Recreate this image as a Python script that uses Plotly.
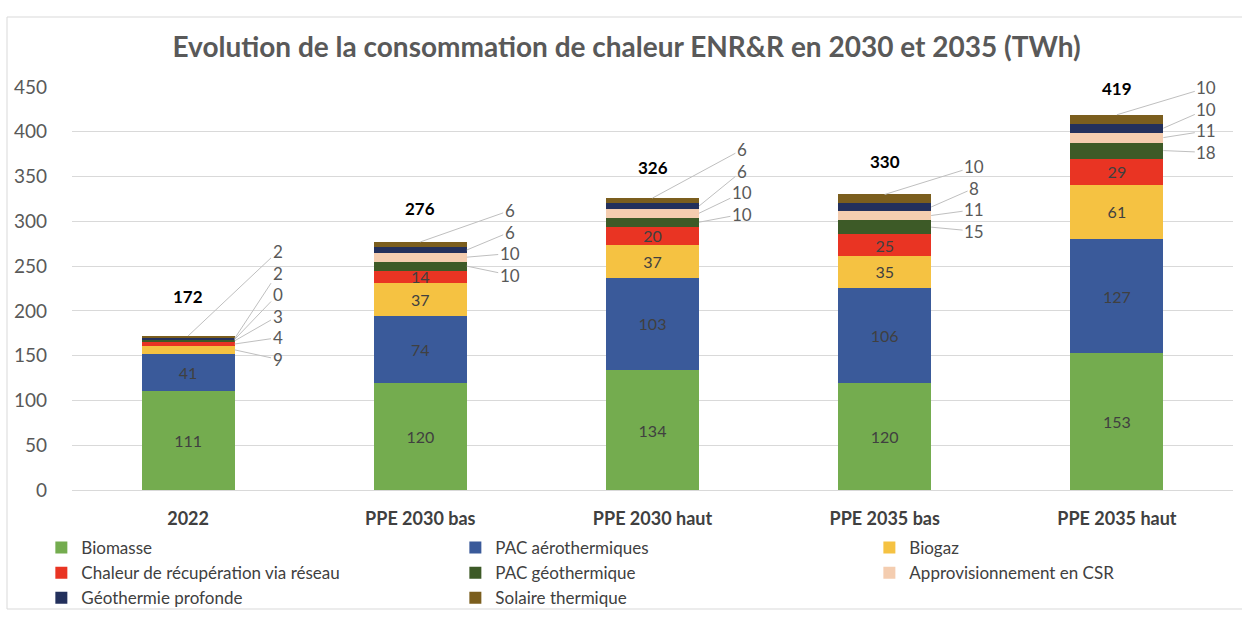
import plotly.graph_objects as go

categories = ["2022", "PPE 2030 bas", "PPE 2030 haut", "PPE 2035 bas", "PPE 2035 haut"]
series_names = ["Biomasse", "PAC aérothermiques", "Biogaz", "Chaleur de récupération via réseau",
                "PAC géothermique", "Approvisionnement en CSR", "Géothermie profonde", "Solaire thermique"]
biomasse = [111, 120, 134, 120, 153]
pac_aero = [41, 74, 103, 106, 127]
biogaz = [9, 37, 37, 35, 61]
chaleur = [4, 14, 20, 25, 29]
pac_geo = [3, 10, 10, 15, 18]
csr = [0, 10, 10, 11, 11]
geo_prof = [2, 6, 6, 8, 10]
solaire = [2, 6, 6, 10, 10]
totals = [172, 276, 326, 330, 419]

series_values = [biomasse, pac_aero, biogaz, chaleur, pac_geo, csr, geo_prof, solaire]
colors = ["#74AC4F", "#3A5A9A", "#F5C242", "#E93423", "#3D5A27", "#F4CDB0", "#23305C", "#7B5E1E"]
# legend column of each series (3 columns, as in the reference)
legend_cols = ["legend", "legend2", "legend3", "legend", "legend2", "legend3", "legend", "legend2"]

# styling for label placement (not data)
total_shift_px = [39, 34, 31, 33, 26]
callout_start = [94, 35, 54, 31, 30]
callout_step = 24
callout_dx = 0.385
bar_half = 0.2

FONT = "Lato, 'Open Sans', sans-serif"

fig = go.Figure()
n = len(categories)
xs = list(range(n))
for si, (name, vals, col) in enumerate(zip(series_names, series_values, colors)):
    txt = [str(v) if (si < 4 and v >= 10) else "" for v in vals]
    fig.add_trace(go.Bar(
        x=xs, y=vals, name=name, marker=dict(color=col, line=dict(width=0)),
        width=0.4, text=txt, textposition="inside", insidetextanchor="middle",
        constraintext="none", textangle=0,
        textfont=dict(family=FONT, size=16, color="#404040"),
        hoverinfo="skip", legend=legend_cols[si],
    ))

annotations = []
for i in range(n):
    annotations.append(dict(x=i, y=totals[i], xref="x", yref="y", text="<b>%d</b>" % totals[i],
                            showarrow=False, yshift=total_shift_px[i],
                            font=dict(family=FONT, size=17, color="#000000")))
    outside = [si for si in range(len(series_values) - 1, -1, -1)
               if not (si < 4 and series_values[si][i] >= 10)]
    cum = [0]
    for si in range(len(series_values)):
        cum.append(cum[-1] + series_values[si][i])
    stack_top = cum[-1]
    for k, si in enumerate(outside):
        mid = (cum[si] + cum[si + 1]) / 2
        if si == len(series_values) - 1:
            px, py = i, stack_top
        else:
            px, py = i + bar_half, mid
        annotations.append(dict(
            x=px, y=py, xref="x", yref="y",
            ax=i + callout_dx, ay=stack_top + callout_start[i] - k * callout_step,
            axref="x", ayref="y",
            text=str(series_values[si][i]), showarrow=True, arrowhead=0, arrowwidth=1,
            arrowcolor="#BFBFBF", standoff=0,
            font=dict(family=FONT, size=17, color="#595959"),
        ))

legend_style = dict(orientation="v", yanchor="top", xanchor="left", traceorder="normal",
                    font=dict(family=FONT, size=17, color="#404040"), itemclick=False,
                    bgcolor="rgba(0,0,0,0)", tracegroupgap=0)
leg_y = -0.0993

fig.update_layout(
    barmode="stack",
    width=1242, height=617,
    margin=dict(l=72, r=9, t=87, b=127, autoexpand=False),
    paper_bgcolor="white", plot_bgcolor="white",
    title=dict(text="<b>Evolution de la consommation de chaleur ENR&R en 2030 et 2035 (TWh)</b>",
               x=0.5045, xanchor="center", y=1 - 47 / 617, yanchor="middle",
               font=dict(family=FONT, size=28, color="#595959")),
    xaxis=dict(tickmode="array", tickvals=xs, ticktext=["<b>%s</b>" % c for c in categories],
               range=[-0.5, n - 0.5], showgrid=False, zeroline=False, showline=False,
               tickfont=dict(family=FONT, size=18, color="#404040"), ticks="",
               ticklabelstandoff=16),
    yaxis=dict(range=[0, 450], dtick=50, showgrid=True, gridcolor="#D9D9D9", gridwidth=1,
               zeroline=True, zerolinecolor="#D9D9D9", zerolinewidth=1, showline=False,
               tickfont=dict(family=FONT, size=19, color="#595959"), ticklabelstandoff=24),
    legend=dict(x=-0.0264, y=leg_y, **legend_style),
    legend2=dict(x=0.3302, y=leg_y, **legend_style),
    legend3=dict(x=0.6868, y=leg_y, **legend_style),
    annotations=annotations,
    shapes=[dict(type="rect", xref="paper", yref="paper",
                 x0=(7 - 72) / 1161, x1=(1250 - 72) / 1161,
                 y0=(490 - 609) / 403, y1=(490 - 17) / 403,
                 line=dict(color="#D9D9D9", width=1), fillcolor="rgba(0,0,0,0)", layer="below")],
)

fig.write_html("out.html", config={"displayModeBar": False},
               post_script="document.body.style.margin='0';document.body.style.overflow='hidden';")
